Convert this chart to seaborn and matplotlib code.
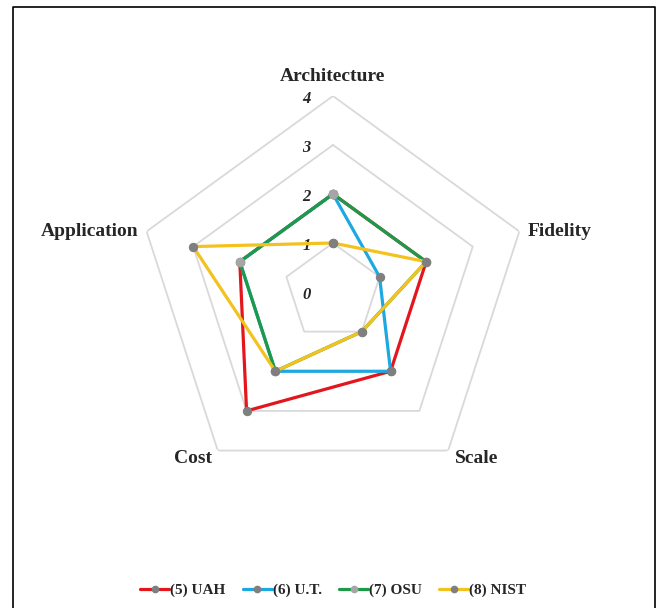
import numpy as np
import pandas as pd
import matplotlib
matplotlib.use('Agg')
import matplotlib.pyplot as plt
from matplotlib.lines import Line2D
import seaborn as sns

categories = ['Architecture', 'Fidelity', 'Scale', 'Cost', 'Application']
uah = [2, 2, 2, 3, 2]
ut = [2, 1, 2, 2, 2]
osu = [2, 2, 1, 2, 2]
nist = [1, 2, 1, 2, 3]
series_names = ['(5) UAH', '(6) U.T.', '(7) OSU', '(8) NIST']
rings = [1, 2, 3, 4]
ring_labels = ['0', '1', '2', '3', '4']

colors = ['#e3161d', '#1ca8e0', '#1c9a4a', '#f3c21f']
marker_colors = ['#7f7f7f', '#7f7f7f', '#a6a6a6', '#7f7f7f']

sns.set_style('white')
plt.rcParams['font.family'] = ['Liberation Serif', 'DejaVu Serif']

fig = plt.figure(figsize=(6.57, 6.08), dpi=100)
ax = fig.add_axes([0.2085, 0.1974, 0.5966, 0.6447], projection='polar')
ax.set_theta_offset(np.pi / 2)
ax.set_theta_direction(-1)
ax.set_ylim(0, 4)
ax.grid(False)
ax.spines['polar'].set_visible(False)
ax.patch.set_alpha(0)

n = len(categories)
angles = np.linspace(0, 2 * np.pi, n, endpoint=False)
closed = np.append(angles, angles[0])

# pentagon grid
for r in rings:
    ax.plot(closed, [r] * (n + 1), color='#d9d9d9', lw=1.3, zorder=1)

rows = []
for name, vals in zip(series_names, [uah, ut, osu, nist]):
    for i, v in enumerate(vals + [vals[0]]):
        rows.append({'series': name, 'theta': closed[i], 'value': v})
df = pd.DataFrame(rows)

for k, name in enumerate(series_names):
    sub = df[df.series == name]
    sns.lineplot(data=sub, x='theta', y='value', sort=False, estimator=None,
                 ax=ax, color=colors[k], lw=2.3, marker='o', markersize=6,
                 markerfacecolor=marker_colors[k], markeredgecolor=marker_colors[k],
                 zorder=3 + k, legend=False)
ax.set_xlabel('')
ax.set_ylabel('')
ax.set_xticks([])
ax.set_yticks([])
ax.set_ylim(0, 4)

# ring value labels along the top axis
for v, lab in enumerate(ring_labels):
    ax.annotate(lab, xy=(0, v), xytext=(-19, -2), textcoords='offset points',
                ha='center', va='center', fontsize=12, fontstyle='italic',
                fontweight='bold', annotation_clip=False)

# category labels
offsets = [((0, 14), 'center', 'center'),
           ((6, 0), 'left', 'center'),
           ((5, -6), 'left', 'center'),
           ((-4, -6), 'right', 'center'),
           ((-6, 0), 'right', 'center')]
for ang, cat, (off, ha, va) in zip(angles, categories, offsets):
    ax.annotate(cat, xy=(ang, 4), xytext=off, textcoords='offset points',
                ha=ha, va=va, fontsize=14, fontweight='bold',
                annotation_clip=False)

handles = [Line2D([0], [0], color=colors[k], lw=2.3, marker='o', markersize=4.5,
                  markerfacecolor=marker_colors[k], markeredgecolor=marker_colors[k])
           for k in range(len(series_names))]
fig.legend(handles, series_names, loc='center', bbox_to_anchor=(0.507, 0.029),
           ncol=4, frameon=False, handlelength=1.9, handletextpad=0.05,
           columnspacing=1.15, prop={'weight': 'bold', 'size': 11})

# outer border of the chart area
fig.add_artist(Line2D([12.5 / 657, 12.5 / 657, 654.5 / 657, 654.5 / 657],
                      [0, 1 - 6.5 / 608, 1 - 6.5 / 608, 0],
                      transform=fig.transFigure, color='black', lw=1.2))

fig.savefig('out.png', dpi=100)
